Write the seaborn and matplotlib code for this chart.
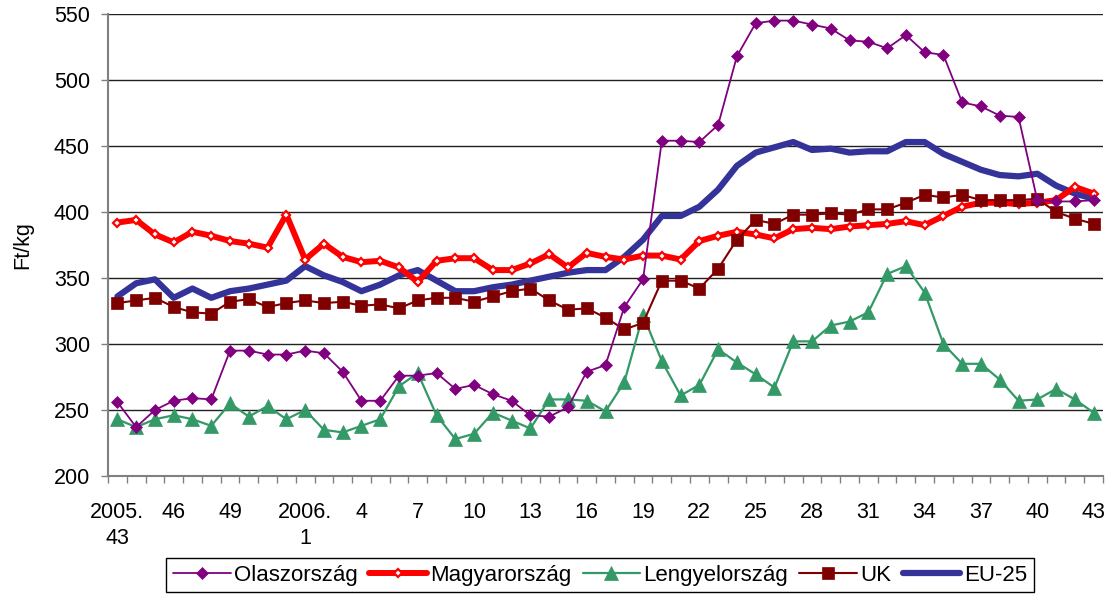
import numpy as np
import pandas as pd
import matplotlib
matplotlib.use("Agg")
import matplotlib.pyplot as plt
import seaborn as sns
from matplotlib.ticker import FixedLocator, NullFormatter

# ---------------- data ----------------
weeks_2005 = list(range(43, 53))
weeks_2006 = list(range(1, 44))
categories = [f"2005.{w}" for w in weeks_2005] + [f"2006.{w}" for w in weeks_2006]

tick_cats = ["2005.43", "2005.46", "2005.49"] + [f"2006.{w}" for w in range(1, 44, 3)]
tick_labels = ["2005.\n43", "46", "49", "2006.\n1"] + [str(w) for w in range(4, 44, 3)]

olaszorszag = [256, 237, 250, 257, 259, 258, 295, 295, 292, 292, 295, 293, 279,
               257, 257, 276, 276, 278, 266, 269, 262, 257, 246, 245, 252, 279,
               284, 328, 349, 454, 454, 453, 466, 518, 543, 545, 545, 542, 539,
               530, 529, 524, 534, 521, 519, 483, 480, 473, 472, 409, 408, 408, 409]
magyarorszag = [392, 394, 383, 377, 385, 382, 378, 376, 373, 398, 364, 376, 366,
                362, 363, 358, 347, 363, 365, 365, 356, 356, 361, 368, 358, 369,
                366, 364, 367, 367, 364, 378, 382, 385, 383, 380, 387, 388, 387,
                389, 390, 391, 393, 390, 397, 404, 407, 407, 406, 407, 409, 419, 414]
lengyelorszag = [243, 237, 243, 246, 243, 238, 255, 245, 253, 243, 250, 235, 233,
                 238, 243, 268, 278, 246, 228, 232, 248, 242, 236, 258, 258, 257,
                 249, 271, 322, 287, 261, 269, 296, 286, 277, 267, 302, 302, 314,
                 317, 324, 353, 359, 339, 300, 285, 285, 273, 257, 258, 266, 258, 248]
uk = [331, 333, 335, 328, 324, 323, 332, 334, 328, 331, 333, 331, 332,
      329, 330, 327, 333, 335, 335, 332, 336, 340, 342, 333, 326, 327,
      320, 311, 316, 348, 348, 342, 357, 379, 394, 391, 398, 398, 399,
      398, 402, 402, 407, 413, 411, 413, 409, 409, 409, 410, 400, 395, 391]
eu25 = [336, 346, 349, 335, 342, 335, 340, 342, 345, 348, 359, 352, 347,
        340, 345, 352, 356, 348, 340, 340, 343, 345, 348, 351, 354, 356,
        356, 366, 379, 397, 397, 404, 417, 435, 445, 449, 453, 447, 448,
        445, 446, 446, 453, 453, 444, 438, 432, 428, 427, 429, 420, 414, 410]

series_names = ["Olaszország", "Magyarország", "Lengyelország", "UK", "EU-25"]
series_values = [olaszorszag, magyarorszag, lengyelorszag, uk, eu25]

# ---------------- style ----------------
sns.set_style("white")
plt.rcParams["font.family"] = ["Liberation Sans", "DejaVu Sans"]
plt.rcParams["font.size"] = 15.5
plt.rcParams["text.color"] = "black"
plt.rcParams["axes.labelcolor"] = "black"
plt.rcParams["xtick.labelcolor"] = "black"
plt.rcParams["ytick.labelcolor"] = "black"

styles = {
    "Olaszország": dict(color="#800080", lw=1.3, marker="D", ms=6.5,
                        mfc="#800080", mec="#800080", mew=0.5, zorder=2.5),
    "Magyarország": dict(color="#FF0000", lw=4.3, marker="D", ms=4.5,
                         mfc="white", mec="#FF0000", mew=1.6, zorder=2.2),
    "Lengyelország": dict(color="#339966", lw=1.6, marker="^", ms=9.5,
                          mfc="#339966", mec="#339966", mew=0.5, zorder=2.3),
    "UK": dict(color="#800000", lw=1.5, marker="s", ms=8.5,
               mfc="#800000", mec="#800000", mew=0.5, zorder=2.4),
    "EU-25": dict(color="#333399", lw=4.5, marker=None, zorder=2.1),
}

fig = plt.figure(figsize=(11.11, 5.94), dpi=100)
ax = fig.add_axes([108 / 1111, 1 - 476 / 594, 995 / 1111, 462 / 594])

x_idx = np.arange(len(categories))
for name, vals in zip(series_names, series_values):
    st = styles[name]
    kw = dict(color=st["color"], linewidth=st["lw"], zorder=st["zorder"], label=name)
    if st["marker"]:
        kw.update(marker=st["marker"], markersize=st["ms"], markerfacecolor=st["mfc"],
                  markeredgecolor=st["mec"], markeredgewidth=st["mew"])
    sns.lineplot(x=x_idx, y=vals, ax=ax, legend=False, **kw)

# ---------------- axes ----------------
ax.set_xlim(-0.5, len(categories) - 0.5)
ax.set_ylim(200, 550)
ax.set_yticks(np.arange(200, 551, 50))
ax.yaxis.grid(True, color="#202020", linewidth=1.0)
ax.xaxis.grid(False)
ax.set_axisbelow(True)

tick_pos = [categories.index(c) for c in tick_cats]
ax.set_xticks(tick_pos)
ax.set_xticklabels(tick_labels)
for t in ax.get_xticklabels():
    t.set_linespacing(1.3)
ax.xaxis.set_minor_locator(FixedLocator(np.arange(-0.5, len(categories), 1.0)))
ax.xaxis.set_minor_formatter(NullFormatter())
ax.tick_params(axis="x", which="major", length=0, pad=19, labelsize=15.5, labelcolor="black")
ax.tick_params(axis="x", which="minor", length=5, width=1, color="#808080", direction="out", bottom=True)
ax.tick_params(axis="y", which="major", length=5, width=1, color="#808080", direction="out",
               pad=8, labelsize=15.5, left=True, labelcolor="black")

for s in ["top", "right"]:
    ax.spines[s].set_visible(False)
for s in ["left", "bottom"]:
    ax.spines[s].set_color("#808080")
    ax.spines[s].set_linewidth(1.5)

ax.set_xlabel("")
ax.set_ylabel("Ft/kg", fontsize=15.5, labelpad=15, color="black")

handles, labels = ax.get_legend_handles_labels()
leg = fig.legend(handles, labels, loc="upper center", bbox_to_anchor=(600 / 1111, 36 / 594),
                 ncol=5, fontsize=16, frameon=True, fancybox=False, framealpha=1,
                 edgecolor="black", handlelength=2.6, handletextpad=0.15,
                 columnspacing=0.5, borderpad=0.3, borderaxespad=0)
leg.get_frame().set_linewidth(1.0)
for t in leg.get_texts():
    t.set_color("black")

fig.savefig("out.png", dpi=100)
